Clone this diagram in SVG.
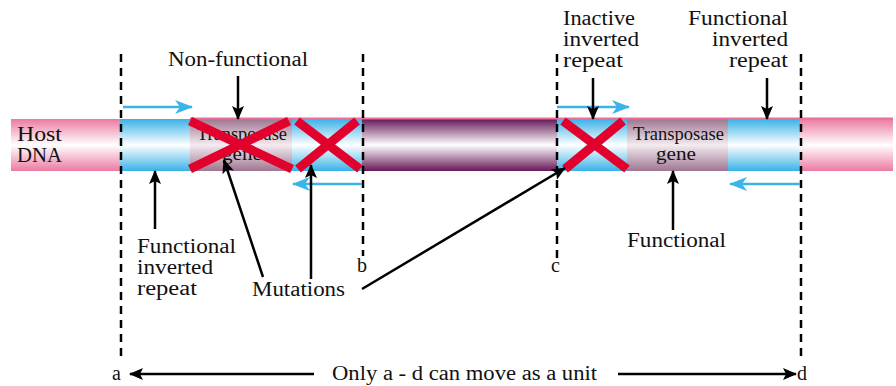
<svg xmlns="http://www.w3.org/2000/svg" width="896" height="386" viewBox="0 0 896 386">
<defs>
<linearGradient id="gPink" x1="0" y1="0" x2="0" y2="1">
<stop offset="0" stop-color="#eb7aa2"/><stop offset="0.5" stop-color="#ffffff"/><stop offset="1" stop-color="#eb7aa2"/>
</linearGradient>
<linearGradient id="gBlue" x1="0" y1="0" x2="0" y2="1">
<stop offset="0" stop-color="#39b2e8"/><stop offset="0.5" stop-color="#ffffff"/><stop offset="1" stop-color="#39b2e8"/>
</linearGradient>
<linearGradient id="gGene" x1="0" y1="0" x2="0" y2="1">
<stop offset="0" stop-color="#9f7590"/><stop offset="0.5" stop-color="#f3ecf0"/><stop offset="1" stop-color="#9f7590"/>
</linearGradient>
<linearGradient id="gPurple" x1="0" y1="0" x2="0" y2="1">
<stop offset="0" stop-color="#661858"/><stop offset="0.5" stop-color="#ffffff"/><stop offset="1" stop-color="#661858"/>
</linearGradient>
<marker id="ah" viewBox="0 0 14 12" refX="13" refY="6" markerWidth="14" markerHeight="12" markerUnits="userSpaceOnUse" orient="auto">
<path d="M0,0 L14,6 L0,12 L3,6 Z" fill="#000"/>
</marker>
<marker id="bh" viewBox="0 0 18 14" refX="17" refY="7" markerWidth="18" markerHeight="14" markerUnits="userSpaceOnUse" orient="auto">
<path d="M0,0 L18,7 L0,14 L5,7 Z" fill="#3bb4e8"/>
</marker>
</defs>
<style>
text{font-family:"Liberation Serif","Times New Roman",serif;fill:#111;}
.lbl{font-size:20px;}
.gene{font-size:18px;}
.dash{stroke:#000;stroke-width:2.5;stroke-dasharray:8,6;fill:none;}
.arr{stroke:#000;stroke-width:2.5;fill:none;marker-end:url(#ah);}
.barr{stroke:#3bb4e8;stroke-width:2.5;fill:none;marker-end:url(#bh);}
.x{stroke:#e2002c;stroke-width:9;stroke-linecap:butt;fill:none;}
</style>

<g id="dna-bar">
<rect x="11" y="119" width="109" height="52" fill="url(#gPink)"/>
<rect x="800" y="119" width="93" height="52" fill="url(#gPink)"/>
<rect x="120" y="119" width="70" height="52" fill="url(#gBlue)"/>
<rect x="292" y="119" width="70" height="52" fill="url(#gBlue)"/>
<rect x="557" y="119" width="70" height="52" fill="url(#gBlue)"/>
<rect x="728" y="119" width="72" height="52" fill="url(#gBlue)"/>
<rect x="190" y="119" width="102" height="52" fill="url(#gGene)"/>
<rect x="627" y="119" width="101" height="52" fill="url(#gGene)"/>
<rect x="362" y="119" width="195" height="52" fill="url(#gPurple)"/>
<rect x="190" y="117.5" width="703" height="2" fill="#e8709a"/>
</g>

<g id="host-dna">
<text class="lbl" x="17" y="141" textLength="45" lengthAdjust="spacingAndGlyphs">Host</text>
<text class="lbl" x="17" y="162" textLength="45" lengthAdjust="spacingAndGlyphs">DNA</text>
</g>

<g id="gene-left">
<text class="gene" x="197" y="140" textLength="90" lengthAdjust="spacingAndGlyphs">Transposase</text>
<text class="gene" x="222" y="160" textLength="40" lengthAdjust="spacingAndGlyphs">gene</text>
</g>
<g id="gene-right">
<text class="gene" x="633" y="140" textLength="91" lengthAdjust="spacingAndGlyphs">Transposase</text>
<text class="gene" x="656" y="160" textLength="40" lengthAdjust="spacingAndGlyphs">gene</text>
</g>

<g id="mutation-marks">
<line class="x" x1="190" y1="121" x2="292" y2="169"/>
<line class="x" x1="190" y1="169" x2="289" y2="121"/>
<line class="x" x1="297" y1="121" x2="360" y2="169"/>
<line class="x" x1="298" y1="169" x2="357" y2="121"/>
<line class="x" x1="563" y1="121" x2="627" y2="169"/>
<line class="x" x1="565" y1="169" x2="623" y2="121"/>
</g>

<g id="boundaries">
<line class="dash" x1="121" y1="54" x2="121" y2="360"/>
<line class="dash" x1="363" y1="54" x2="363" y2="256"/>
<line class="dash" x1="557" y1="54" x2="557" y2="258"/>
<line class="dash" x1="801" y1="54" x2="801" y2="362"/>
<text class="lbl" x="357" y="272">b</text>
<text class="lbl" x="551" y="272">c</text>
<text class="lbl" x="112" y="380">a</text>
<text class="lbl" x="797" y="380">d</text>
</g>

<g id="repeat-arrows">
<line class="barr" x1="123" y1="107" x2="192" y2="107"/>
<line class="barr" x1="362" y1="184" x2="293" y2="184"/>
<line class="barr" x1="557" y1="107" x2="629" y2="107"/>
<line class="barr" x1="800" y1="184" x2="730" y2="184"/>
</g>

<g id="connectors">
<line class="arr" x1="238" y1="76" x2="238" y2="119"/>
<line class="arr" x1="593" y1="78" x2="593" y2="119"/>
<line class="arr" x1="767" y1="78" x2="767" y2="119"/>
<line class="arr" x1="155" y1="229" x2="155" y2="171"/>
<line class="arr" x1="673" y1="230" x2="673" y2="171"/>
<line class="arr" x1="263" y1="277" x2="224" y2="160"/>
<line class="arr" x1="311" y1="279" x2="311" y2="165"/>
<line class="arr" x1="362" y1="289" x2="565" y2="168"/>
<line class="arr" x1="314" y1="374" x2="130" y2="374"/>
<line class="arr" x1="618" y1="374" x2="796" y2="374"/>
</g>

<g id="label-nonfunctional">
<text class="lbl" x="168" y="66" textLength="140" lengthAdjust="spacingAndGlyphs">Non-functional</text>
</g>
<g id="label-inactive">
<text class="lbl" x="563" y="25" textLength="72" lengthAdjust="spacingAndGlyphs">Inactive</text>
<text class="lbl" x="563" y="46" textLength="76" lengthAdjust="spacingAndGlyphs">inverted</text>
<text class="lbl" x="563" y="67" textLength="60" lengthAdjust="spacingAndGlyphs">repeat</text>
</g>
<g id="label-functional-repeat-right">
<text class="lbl" x="688" y="25" textLength="100" lengthAdjust="spacingAndGlyphs">Functional</text>
<text class="lbl" x="712" y="46" textLength="76" lengthAdjust="spacingAndGlyphs">inverted</text>
<text class="lbl" x="729" y="67" textLength="59" lengthAdjust="spacingAndGlyphs">repeat</text>
</g>
<g id="label-functional-repeat-left">
<text class="lbl" x="137" y="253" textLength="99" lengthAdjust="spacingAndGlyphs">Functional</text>
<text class="lbl" x="137" y="274" textLength="76" lengthAdjust="spacingAndGlyphs">inverted</text>
<text class="lbl" x="137" y="295" textLength="60" lengthAdjust="spacingAndGlyphs">repeat</text>
</g>
<g id="label-mutations">
<text class="lbl" x="252" y="296" textLength="93" lengthAdjust="spacingAndGlyphs">Mutations</text>
</g>
<g id="label-functional">
<text class="lbl" x="627" y="247" textLength="99" lengthAdjust="spacingAndGlyphs">Functional</text>
</g>
<g id="label-unit">
<text class="lbl" x="332" y="380" textLength="265" lengthAdjust="spacingAndGlyphs">Only a - d can move as a unit</text>
</g>
</svg>
